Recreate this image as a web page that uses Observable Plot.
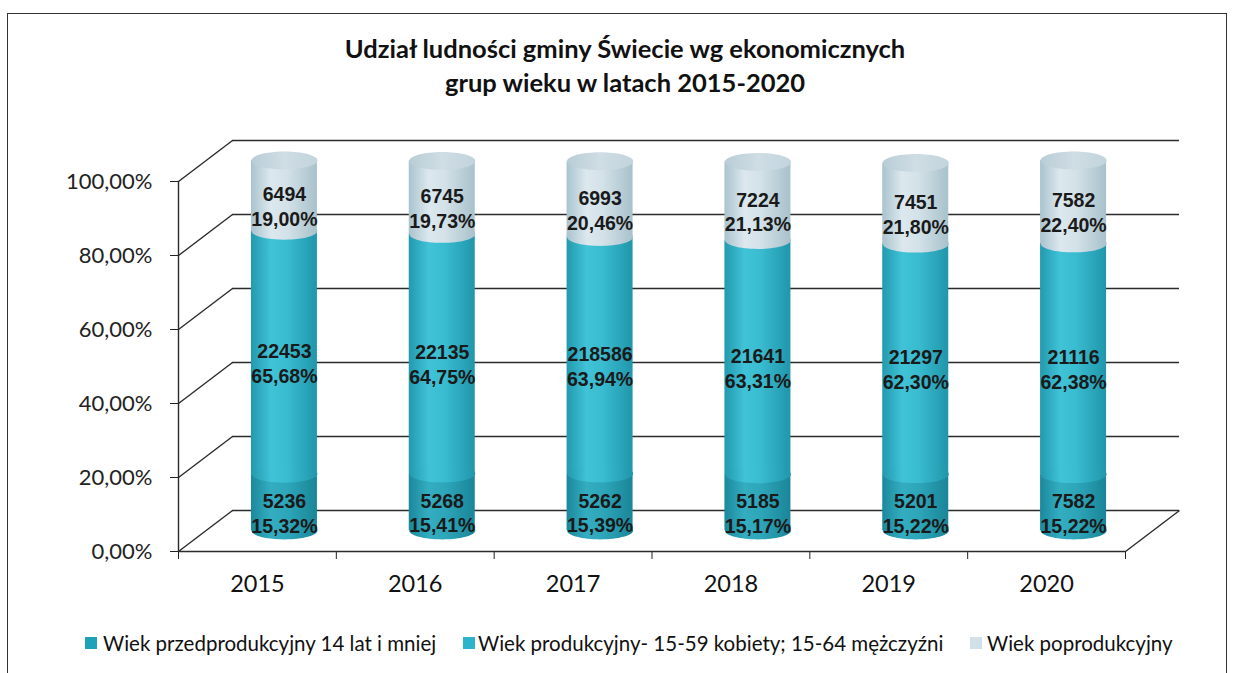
<!DOCTYPE html>
<html>
<head>
<meta charset="utf-8">
<script src="https://cdn.jsdelivr.net/npm/d3@7"></script>
<script src="https://cdn.jsdelivr.net/npm/@observablehq/plot@0.6"></script>
<style>
  html, body { margin: 0; padding: 0; background: #fff; }
  #wrap { position: relative; width: 1237px; height: 673px; overflow: hidden; background: #fff; }
  #border { position: absolute; left: 7px; top: 13px; width: 1220px; height: 700px; border: 1.5px solid #333; box-sizing: border-box; }
  #title { position: absolute; left: 0; width: 1250px; top: 31px; text-align: center; font-family: Lato, "Open Sans", sans-serif; font-weight: bold; font-size: 25.5px; line-height: 34px; color: #111; }
  #chart { position: absolute; left: 0; top: 0; }
  .leg { position: absolute; top: 631px; font-family: Lato, "Open Sans", sans-serif; font-size: 20.5px; line-height: 24px; color: #111; white-space: nowrap; }
  .sw { position: absolute; top: 637px; width: 12px; height: 12px; }
</style>
</head>
<body>
<svg width="0" height="0" style="position:absolute">
  <defs>
    <linearGradient id="gPre" x1="0" x2="1" y1="0" y2="0">
      <stop offset="0" stop-color="#1b889c"/>
      <stop offset="0.3" stop-color="#34adc1"/>
      <stop offset="0.55" stop-color="#2ea6ba"/>
      <stop offset="1" stop-color="#1a8598"/>
    </linearGradient>
    <linearGradient id="gProd" x1="0" x2="1" y1="0" y2="0">
      <stop offset="0" stop-color="#2299ae"/>
      <stop offset="0.3" stop-color="#40c2d7"/>
      <stop offset="0.55" stop-color="#39bbd0"/>
      <stop offset="1" stop-color="#2096aa"/>
    </linearGradient>
    <linearGradient id="gPost" x1="0" x2="1" y1="0" y2="0">
      <stop offset="0" stop-color="#a9c3ce"/>
      <stop offset="0.3" stop-color="#dce8ee"/>
      <stop offset="0.55" stop-color="#d3e1e8"/>
      <stop offset="1" stop-color="#a8c1cb"/>
    </linearGradient>
    <linearGradient id="gTop" x1="0" x2="1" y1="0" y2="0">
      <stop offset="0" stop-color="#b9cdd6"/>
      <stop offset="0.5" stop-color="#cfdde4"/>
      <stop offset="1" stop-color="#c2d4dc"/>
    </linearGradient>
  </defs>
</svg>
<div id="wrap">
  <div id="border"></div>
  <div id="title">Udział ludności gminy Świecie wg ekonomicznych<br>grup wieku w latach 2015-2020</div>
  <div id="chart"></div>
  <div class="sw" style="left:85px;background:#1ea2b8"></div>
  <div class="leg" style="left:103px">Wiek przedprodukcyjny 14 lat i mniej</div>
  <div class="sw" style="left:463px;background:#2db3cc"></div>
  <div class="leg" style="left:478px">Wiek produkcyjny- 15-59 kobiety; 15-64 mężczyźni</div>
  <div class="sw" style="left:970px;background:#d2e0e9"></div>
  <div class="leg" style="left:987px">Wiek poprodukcyjny</div>
</div>
<script>
// ---- data ----
const years = ["2015", "2016", "2017", "2018", "2019", "2020"];
const preCount = [5236, 5268, 5262, 5185, 5201, 7582];
const prePct = [15.32, 15.41, 15.39, 15.17, 15.22, 15.22];
const prodCount = [22453, 22135, 218586, 21641, 21297, 21116];
const prodPct = [65.68, 64.75, 63.94, 63.31, 62.30, 62.38];
const postCount = [6494, 6745, 6993, 7224, 7451, 7582];
const postPct = [19.00, 19.73, 20.46, 21.13, 21.80, 22.40];
const yTicks = [0, 20, 40, 60, 80, 100];
const seriesNames = ["pre", "prod", "post"];

// ---- build stacked rows ----
const counts = [preCount, prodCount, postCount];
const pcts = [prePct, prodPct, postPct];
const grads = ["url(#gPre)", "url(#gProd)", "url(#gPost)"];
const rows = [];
years.forEach((yr, i) => {
  let acc = 0;
  seriesNames.forEach((s, k) => {
    const p = pcts[k][i];
    rows.push({year: yr, i, series: s, k, count: counts[k][i], pct: p, y1: acc, y2: acc + p, grad: grads[k]});
    acc += p;
  });
});
const tops = rows.filter(d => d.k === 2);

// ---- geometry (pixels) ----
const W = 1237, H = 673;
const mL = 178, mR = 112, mT = 181, mB = 122;
const plotW = W - mL - mR, plotH = H - mT - mB;
const depthX = 54, depthY = -41;          // back wall offset (px)
const cylDX = 27, cylDY = -21;            // cylinder mid-depth offset (px)
const nCat = years.length;
const dXu = depthX * nCat / plotW;
const dYu = -depthY * 100 / plotH;

const ellipse = {
  draw(context, size) {
    const rx = Math.sqrt(size / Math.PI);
    const ry = rx * 0.27;
    const k = 0.5523;
    context.moveTo(-rx, 0);
    context.bezierCurveTo(-rx, -k * ry, -k * rx, -ry, 0, -ry);
    context.bezierCurveTo(k * rx, -ry, rx, -k * ry, rx, 0);
    context.bezierCurveTo(rx, k * ry, k * rx, ry, 0, ry);
    context.bezierCurveTo(-k * rx, ry, -rx, k * ry, -rx, 0);
    context.closePath();
  }
};

const cylHalf = 33;
const inset = plotW / nCat / 2 - cylHalf;
const fmtPct = v => v.toFixed(2).replace(".", ",") + "%";
const lineCol = "#2b2b2b";

const marks = [
  Plot.ruleY(yTicks, {y: d => d, dx: depthX, dy: depthY, stroke: lineCol, strokeWidth: 1.4}),
  Plot.link(yTicks, {x1: 0, y1: d => d, x2: dXu, y2: d => d + dYu, stroke: lineCol, strokeWidth: 1.4}),
  Plot.link([0], {x1: nCat, y1: d => d, x2: nCat + dXu, y2: d => d + dYu, stroke: lineCol, strokeWidth: 1.4}),
  Plot.ruleY([0], {stroke: lineCol, strokeWidth: 1.4}),
  Plot.ruleX([0], {stroke: lineCol, strokeWidth: 1.4})
];

for (let k = 0; k < 3; k++) {
  const seg = rows.filter(d => d.k === k);
  marks.push(Plot.rectY(seg, {x1: d => d.i, x2: d => d.i + 1, y1: "y1", y2: "y2", fill: "grad", insetLeft: inset, insetRight: inset, dx: cylDX, dy: cylDY}));
  marks.push(Plot.dot(seg, {x: d => d.i + 0.5, y: "y1", r: cylHalf, symbol: ellipse, fill: "grad", stroke: "none", dx: cylDX, dy: cylDY}));
}
marks.push(Plot.dot(tops, {x: d => d.i + 0.5, y: "y2", r: cylHalf, symbol: ellipse, fill: () => "url(#gTop)", stroke: "none", dx: cylDX, dy: cylDY}));

marks.push(Plot.text(rows, {
  x: d => d.i + 0.5, y: d => (d.y1 + d.y2) / 2,
  text: d => d.count + "\n" + fmtPct(d.pct),
  dx: cylDX, dy: -11, lineHeight: 1.28,
  fontFamily: "Liberation Sans, Arial, sans-serif", fontWeight: "bold", fontSize: 19.5, fill: "#1a1a1a"
}));
marks.push(Plot.text(years, {x: (d, i) => i + 0.5, y: () => 0, text: d => d, dy: 33,
  fontFamily: "Lato, 'Open Sans', sans-serif", fontSize: 23.5, fill: "#111"}));

const chart = Plot.plot({
  width: W, height: H,
  marginLeft: mL, marginRight: mR, marginTop: mT, marginBottom: mB,
  style: {background: "transparent", color: "#222", fontFamily: "Lato, 'Open Sans', sans-serif", fontSize: "22px", overflow: "visible"},
  color: {type: "identity"},
  x: {type: "linear", domain: [0, nCat], ticks: d3.range(nCat + 1), tickSize: 8, tickFormat: () => "", label: null},
  y: {domain: [0, 100], ticks: yTicks, tickSize: 8, tickPadding: 18, tickFormat: fmtPct, label: null},
  marks
});
document.getElementById("chart").appendChild(chart);
</script>
</body>
</html>
